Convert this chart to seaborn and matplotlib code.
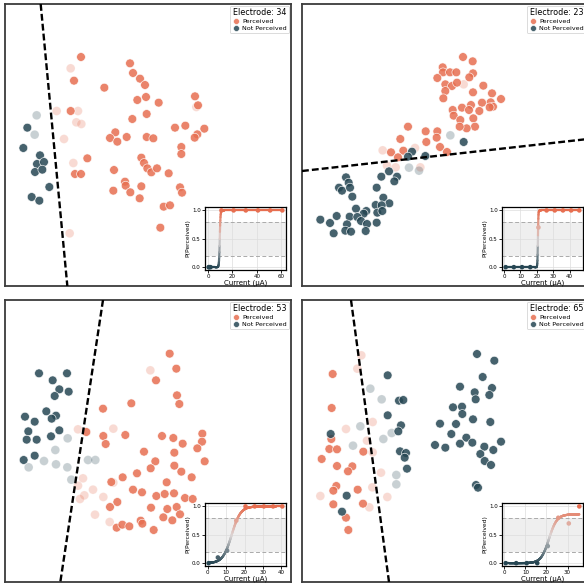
import numpy as np
import pandas as pd
import matplotlib
matplotlib.use("Agg")
import matplotlib.pyplot as plt
import seaborn as sns
from matplotlib.collections import LineCollection
from matplotlib.colors import LinearSegmentedColormap

# ---------------- data ----------------
electrodes = [34, 23, 53, 65]

# 2-D embedding coordinates per electrode; P = perceived, p = perceived (low confidence),
# N = not perceived, n = not perceived (low confidence)
e34_P = [(243,171),(222,242),(313,263),(390,190),(399,219),(420,236),(435,255),(412,300),(438,291),
         (476,308),(440,342),(397,357),(212,333),(585,289),(594,316),(525,383),(556,377),(613,386),
         (592,403),(584,413),(544,441),(544,462),(346,397),(330,414),(352,425),(380,411),(440,411),
         (460,415),(262,475),(225,522),(243,522),(342,510),(424,473),(432,489),(442,505),(454,517),
         (471,505),(506,520),(375,545),(377,557),(340,572),(391,577),(424,559),(419,595),(540,562),
         (546,578),(491,620),(510,616),(481,683)]
e34_p = [(212,205),(170,333),(234,333),(229,367),(244,372),(192,417),(220,489),(209,700),(589,321)]
e34_N = [(82,383),(70,444),(120,466),(111,492),(132,486),(105,516),(127,509),(148,561),(95,591),(118,602)]
e34_n = [(110,346),(104,404)]

e23_P = [(489,171),(518,184),(428,202),(429,217),(450,217),(469,217),(519,220),(508,232),(412,234),
         (436,253),(456,258),(471,248),(550,257),(519,277),(436,273),(430,295),(576,280),(603,297),
         (546,308),(572,307),(579,320),(569,322),(458,330),(486,323),(513,315),(507,330),(538,333),
         (461,347),(481,360),(520,355),(525,380),(500,385),(479,380),(324,380),(377,394),(412,394),
         (301,417),(379,426),(410,413),(420,441),(441,456),(310,452),(273,457),(294,472)]
e23_p = [(491,253),(248,451),(345,444),(261,497),(287,502),(361,502)]
e23_N = [(491,426),(336,455),(324,470),(376,468),(267,514),(244,530),(291,530),(283,544),(138,532),
         (146,548),(117,563),(126,572),(150,563),(230,563),(157,590),(250,593),(227,615),(268,610),
         (245,616),(168,626),(199,633),(191,641),(149,650),(172,651),(232,638),(247,633),(110,648),
         (61,659),(90,669),(230,668),(183,663),(201,672),(141,673),(136,692),(153,695),(197,693),(101,700)]
e23_n = [(451,406),(327,503),(357,512)]

e53_P = [(509,176),(529,221),(468,256),(531,301),(538,327),(394,325),(309,341),(259,411),(310,423),
         (317,447),(376,420),(486,423),(520,429),(548,446),(607,416),(606,440),(592,460),(614,499),
         (432,470),(523,473),(466,499),(452,520),(523,512),(544,530),(575,547),(411,535),(368,547),
         (334,561),(500,562),(399,584),(426,592),(469,603),(494,597),(522,595),(555,609),(578,612),
         (352,621),(330,636),(453,638),(502,642),(530,636),(540,658),(490,667),(517,676),(422,677),
         (427,686),(350,698),(367,689),(388,694),(461,705)]
e53_p = [(451,226),(234,403),(340,401),(249,550),(234,572),(279,584),(253,601),(240,612),(310,606),
         (285,659),(329,681),(340,563)]
e53_N = [(117,235),(158,256),(201,235),(178,283),(164,303),(206,290),(139,349),(168,362),(155,371),
         (75,365),(104,380),(178,406),(153,424),(85,409),(80,434),(110,434),(71,495),(104,482)]
e53_n = [(203,430),(166,465),(132,498),(168,508),(202,517),(86,517),(214,554),(264,495),(286,495)]

e65_P = [(98,237),(95,339),(94,432),(88,462),(111,463),(190,470),(65,492),(111,513),(157,514),
         (144,529),(109,573),(100,587),(173,584),(100,628),(189,626),(138,668),(145,705)]
e65_p = [(184,181),(172,221),(138,402),(218,381),(201,437),(218,472),(243,533),(217,577),(61,603),
         (208,637),(262,606)]
e65_N = [(263,241),(297,317),(310,315),(263,361),(303,391),(295,409),(300,469),(318,474),(314,488),
         (321,521),(140,602),(126,650),(92,417),(531,177),(583,197),(548,246),(480,275),(576,279),
         (524,292),(568,300),(527,313),(459,337),(486,335),(487,357),(420,386),(468,387),(519,373),
         (571,381),(454,417),(499,428),(517,443),(405,450),(436,458),(480,446),(553,455),(603,440),
         (580,465),(541,477),(554,498),(573,510),(528,570),(534,578)]
e65_n = [(211,281),(245,313),(181,394),(275,414),(250,432),(159,452),(289,540),(289,568)]

# decision boundaries (two end points each, embedding units)
e34_line_x, e34_line_y = [122, 202], [12, 858]
e23_line_x, e23_line_y = [6, 864], [513, 417]
e53_line_x, e53_line_y = [309, 181], [15, 861]
e65_line_x, e65_line_y = [153, 267], [15, 861]

# visible embedding extents per panel
e34_xlim, e34_ylim = (15, 873), (858, 12)
e23_xlim, e23_ylim = (6, 864), (858, 12)
e53_xlim, e53_ylim = (15, 873), (861, 15)
e65_xlim, e65_ylim = (6, 864), (861, 15)

# psychometric data (current in uA, proportion perceived)
e34_amp = [0.5, 1, 2, 11, 21, 31, 41, 51, 61]
e34_prob = [0, 0, 0, 1, 1, 1, 1, 1, 1]
e23_amp = [1, 6, 11, 16, 21, 26, 31, 36, 41, 46]
e23_prob = [0, 0, 0, 0, 0.7, 1, 1, 1, 1, 1]
e53_amp = [0.5, 5.5, 10.5, 15.5, 20.5, 25.5, 30.5, 35.5, 40.5]
e53_prob = [0, 0.1, 0.22, 0.75, 1, 1, 1, 1, 1]
e65_amp = [0.6, 5.6, 10.6, 15.6, 20.6, 25.6, 30.6, 35.6]
e65_prob = [0, 0, 0, 0, 0.3, 0.8, 0.7, 1.0]

# fitted sigmoid parameters (threshold, width, asymptote)
e34_fit = (9.6, 0.3, 1.0)
e23_fit = (20.7, 0.15, 1.0)
e53_fit = (13.0, 2.4, 1.0)
e65_fit = (21.2, 1.9, 0.86)

e34_xticks = [0, 20, 40, 60]
e23_xticks = [0, 10, 20, 30, 40]
e53_xticks = [0, 10, 20, 30, 40]
e65_xticks = [0, 10, 20, 30]

# ---------------- styling ----------------
SALMON = "#e76f51"
DARK = "#264653"
palette = {"Perceived": SALMON, "Not Perceived": DARK}
cmap = LinearSegmentedColormap.from_list("pc", [DARK, "#dcd6d6", SALMON])

W = H = 584
fig = plt.figure(figsize=(5.84, 5.84), dpi=100)

def rect(x, y, w, h):
    return [x / W, 1 - (y + h) / H, w / W, h / H]

panels = [
    (34, (5, 4), e34_P, e34_p, e34_N, e34_n, e34_line_x, e34_line_y, e34_xlim, e34_ylim,
     e34_amp, e34_prob, e34_fit, e34_xticks),
    (23, (302, 4), e23_P, e23_p, e23_N, e23_n, e23_line_x, e23_line_y, e23_xlim, e23_ylim,
     e23_amp, e23_prob, e23_fit, e23_xticks),
    (53, (5, 300), e53_P, e53_p, e53_N, e53_n, e53_line_x, e53_line_y, e53_xlim, e53_ylim,
     e53_amp, e53_prob, e53_fit, e53_xticks),
    (65, (302, 300), e65_P, e65_p, e65_N, e65_n, e65_line_x, e65_line_y, e65_xlim, e65_ylim,
     e65_amp, e65_prob, e65_fit, e65_xticks),
]

for (eid, (px, py), P, p, N, n, lx, ly, xlim, ylim, amp, prob, fit, xticks) in panels:
    ax = fig.add_axes(rect(px, py, 286, 282))
    strong = pd.DataFrame(
        [(x, y, "Perceived") for x, y in P] + [(x, y, "Not Perceived") for x, y in N],
        columns=["x", "y", "label"])
    faint = pd.DataFrame(
        [(x, y, "Perceived") for x, y in p] + [(x, y, "Not Perceived") for x, y in n],
        columns=["x", "y", "label"])
    sns.scatterplot(data=faint, x="x", y="y", hue="label", palette=palette, alpha=0.25,
                    s=40, edgecolor="white", linewidth=0.5, legend=False, ax=ax, zorder=2)
    sns.scatterplot(data=strong, x="x", y="y", hue="label", palette=palette, alpha=0.85,
                    hue_order=["Perceived", "Not Perceived"],
                    s=40, edgecolor="white", linewidth=0.5, ax=ax, zorder=3)
    ax.plot(lx, ly, color="black", lw=1.7, linestyle=(0, (2.9, 1.3)), zorder=4)
    ax.set_xlim(*xlim)
    ax.set_ylim(*ylim)
    ax.set_xticks([]); ax.set_yticks([])
    ax.set_xlabel(""); ax.set_ylabel("")
    for sp in ax.spines.values():
        sp.set_color("#3c3c3c"); sp.set_linewidth(1.3)
    handles, labels = ax.get_legend_handles_labels()
    leg = ax.legend(handles, labels, title=f"Electrode: {eid}", loc="upper right",
                    fontsize=4.6, title_fontsize=5.8, markerscale=0.68,
                    borderaxespad=0.25, borderpad=0.35, labelspacing=0.25,
                    handletextpad=0.3, handlelength=1.3, frameon=True, fancybox=True)
    leg.get_frame().set_edgecolor("#cccccc")
    leg.get_frame().set_linewidth(0.6)

    # inset psychometric curve
    ia = fig.add_axes(rect(px + 200, py + 203, 81, 63))
    rng = max(amp) - min(amp)
    ia.set_xlim(min(amp) - 0.05 * rng, max(amp) + 0.05 * rng)
    ia.set_ylim(-0.05, 1.06)
    ia.axhspan(0.2, 0.8, color="#efefef", zorder=0, lw=0)
    ia.grid(True, color="#dddddd", lw=0.5, zorder=0.5)
    ia.set_axisbelow(True)
    for lvl in (0.2, 0.8):
        ia.axhline(lvl, color="#aaaaaa", lw=0.7, ls=(0, (4, 2.5)), zorder=1)
    c, w, top = fit
    xx = np.linspace(min(amp), max(amp), 400)
    yy = top / (1 + np.exp(-(xx - c) / w))
    pts = np.column_stack([xx, yy]).reshape(-1, 1, 2)
    segs = np.concatenate([pts[:-1], pts[1:]], axis=1)
    lc = LineCollection(segs, colors=cmap((yy[:-1] + yy[1:]) / 2), lw=1.6, zorder=2,
                        capstyle="round")
    ia.add_collection(lc)
    sns.scatterplot(x=amp, y=prob, hue=prob, palette=cmap, hue_norm=(0, 1), s=11,
                    edgecolor="none", legend=False, ax=ia, zorder=3)
    ia.set_xticks(xticks)
    ia.set_yticks([0.0, 0.5, 1.0])
    ia.set_yticklabels(["0.0", "0.5", "1.0"])
    ia.tick_params(labelsize=4, length=2, width=0.6, pad=1)
    ia.set_xlabel("Current (µA)", fontsize=5, labelpad=0.5)
    ia.set_ylabel("P(Perceived)", fontsize=4.3, labelpad=1)
    for sp in ia.spines.values():
        sp.set_color("black"); sp.set_linewidth(0.9)

fig.savefig("out.png", dpi=100)
